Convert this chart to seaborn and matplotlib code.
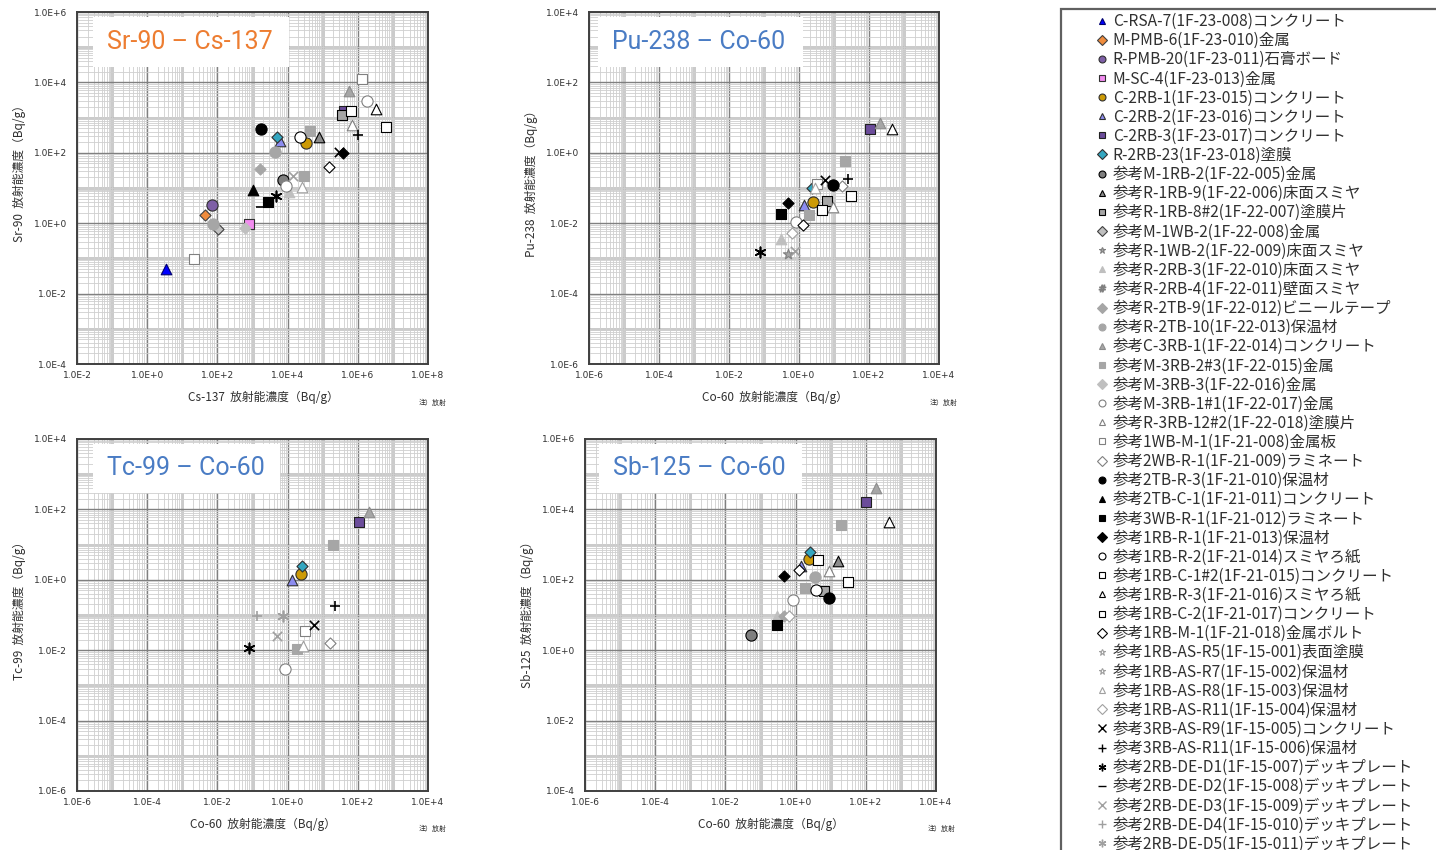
import numpy as np
import pandas as pd
import seaborn as sns
import matplotlib.pyplot as plt
from matplotlib.lines import Line2D
from matplotlib.patches import Rectangle
from matplotlib.ticker import LogLocator, FuncFormatter, NullFormatter

sns.set_style("white")
plt.rcParams['font.family'] = ['DejaVu Sans', 'Noto Sans CJK JP']
JP = ['Noto Sans CJK JP', 'DejaVu Sans']

# legend entries (sample name) and their marker styles
labels = [
    "C-RSA-7(1F-23-008)コンクリート", "M-PMB-6(1F-23-010)金属", "R-PMB-20(1F-23-011)石膏ボード",
    "M-SC-4(1F-23-013)金属", "C-2RB-1(1F-23-015)コンクリート", "C-2RB-2(1F-23-016)コンクリート",
    "C-2RB-3(1F-23-017)コンクリート", "R-2RB-23(1F-23-018)塗膜", "参考M-1RB-2(1F-22-005)金属",
    "参考R-1RB-9(1F-22-006)床面スミヤ", "参考R-1RB-8#2(1F-22-007)塗膜片", "参考M-1WB-2(1F-22-008)金属",
    "参考R-1WB-2(1F-22-009)床面スミヤ", "参考R-2RB-3(1F-22-010)床面スミヤ", "参考R-2RB-4(1F-22-011)壁面スミヤ",
    "参考R-2TB-9(1F-22-012)ビニールテープ", "参考R-2TB-10(1F-22-013)保温材", "参考C-3RB-1(1F-22-014)コンクリート",
    "参考M-3RB-2#3(1F-22-015)金属", "参考M-3RB-3(1F-22-016)金属", "参考M-3RB-1#1(1F-22-017)金属",
    "参考R-3RB-12#2(1F-22-018)塗膜片", "参考1WB-M-1(1F-21-008)金属板", "参考2WB-R-1(1F-21-009)ラミネート",
    "参考2TB-R-3(1F-21-010)保温材", "参考2TB-C-1(1F-21-011)コンクリート", "参考3WB-R-1(1F-21-012)ラミネート",
    "参考1RB-R-1(1F-21-013)保温材", "参考1RB-R-2(1F-21-014)スミヤろ紙", "参考1RB-C-1#2(1F-21-015)コンクリート",
    "参考1RB-R-3(1F-21-016)スミヤろ紙", "参考1RB-C-2(1F-21-017)コンクリート", "参考1RB-M-1(1F-21-018)金属ボルト",
    "参考1RB-AS-R5(1F-15-001)表面塗膜", "参考1RB-AS-R7(1F-15-002)保温材", "参考1RB-AS-R8(1F-15-003)保温材",
    "参考1RB-AS-R11(1F-15-004)保温材", "参考3RB-AS-R9(1F-15-005)コンクリート", "参考3RB-AS-R11(1F-15-006)保温材",
    "参考2RB-DE-D1(1F-15-007)デッキプレート", "参考2RB-DE-D2(1F-15-008)デッキプレート",
    "参考2RB-DE-D3(1F-15-009)デッキプレート", "参考2RB-DE-D4(1F-15-010)デッキプレート",
    "参考2RB-DE-D5(1F-15-011)デッキプレート",
]
ast = (6, 2, 0)
markers = ["^", "D", "o", "s", "o", "^", "s", "D", "o", "^", "s", "D", "*", "^", r"$\#$", "D", "o", "^", "s", "D",
           "o", "^", "s", "D", "o", "^", "s", "D", "o", "s", "^", "s", "D", "*", "*", "^", "D",
           "x", "+", ast, "_", "x", "+", ast]
faces = ["#0000ff", "#f08c3c", "#7e5fa6", "#f28cf0", "#cc9a06", "#8c8cf0", "#6b4c9a", "#33a6c0",
         "#7f7f7f", "#8c8c8c", "#a6a6a6", "#bfbfbf", "#a6a6a6", "#bfbfbf", "#808080", "#a6a6a6",
         "#a6a6a6", "#a6a6a6", "#a6a6a6", "#bfbfbf", "white", "white", "white", "white",
         "black", "black", "black", "black", "white", "white", "white", "white", "white",
         "white", "white", "white", "white", "black", "black", "black", "black", "#a0a0a0", "#a0a0a0", "#a0a0a0"]
edges = ["#00006e", "#404040", "#303030", "#303030", "#303030", "#303030", "#202020", "#303030",
         "black", "black", "black", "#404040", "#808080", "#bfbfbf", "#808080", "#a6a6a6",
         "#a6a6a6", "#8c8c8c", "#a6a6a6", "#bfbfbf", "#808080", "#808080", "#808080", "#808080",
         "black", "black", "black", "black", "black", "black", "black", "black", "black",
         "#a0a0a0", "#a0a0a0", "#a0a0a0", "#a0a0a0", "black", "black", "black", "black",
         "#a0a0a0", "#a0a0a0", "#a0a0a0"]

# Sr-90 vs Cs-137
p1_kind = [0, 22, 2, 1, 16, 11, 19, 3, 15, 25, 40, 26, 39, 24, 7, 5, 16, 8, 20, 13,
           41, 18, 35, 28, 18, 4, 9, 32, 27, 37, 10, 6, 31, 17, 22, 20, 30, 21, 38, 29]
p1_cs137 = [3.4, 22, 71, 43, 73, 107, 620, 780, 1660, 1050, 1740, 2750, 4570, 1740, 5000, 6000, 4400, 7600, 9100, 11000,
            13800, 29000, 25000, 23000, 44000, 34000, 79000, 1.48e5, 3.9e5, 3.0e5, 3.5e5, 4.1e5, 6.2e5, 5.65e5, 1.3e6,
            1.8e6, 3.2e6, 6.9e5, 1.0e6, 6.4e6]
p1_sr90 = [0.049, 0.095, 3.2, 1.66, 0.95, 0.68, 0.74, 0.95, 35, 8.7, 2.85, 3.9, 6.0, 460, 275, 210, 105, 17, 11.5, 7.8,
           22, 22, 11, 290, 410, 195, 285, 39, 96, 105, 1200, 1550, 1550, 5700, 12600, 2950, 1700, 600, 320, 550]

# Pu-238 vs Co-60
p2_kind = [6, 17, 30, 18, 37, 38, 24, 23, 22, 35, 7, 29, 4, 10, 21, 31, 5, 18, 27, 26, 20, 32, 36, 13, 39, 12, 41]
p2_co60 = [110, 200, 455, 20, 5.6, 24.5, 9.1, 17, 3.3, 2.9, 2.4, 31.6, 2.5, 6.5, 9.1, 4.4, 1.4, 1.95, 0.49, 0.30,
           0.83, 1.26, 0.63, 0.30, 0.079, 0.49, 0.78]
p2_pu238 = [4.9, 6.8, 4.6, 0.6, 0.166, 0.18, 0.118, 0.112, 0.134, 0.1, 0.1, 0.06, 0.041, 0.044, 0.028, 0.024, 0.032,
            0.0174, 0.037, 0.0178, 0.0105, 0.0087, 0.0054, 0.0035, 0.0015, 0.0013, 0.0016]

# Tc-99 vs Co-60
p3_kind = [17, 6, 18, 7, 4, 5, 38, 42, 43, 37, 22, 41, 39, 18, 35, 23, 20]
p3_co60 = [204, 105, 20, 2.6, 2.45, 1.37, 23, 0.134, 0.74, 5.7, 3.2, 0.49, 0.079, 1.86, 2.8, 16.6, 0.87]
p3_tc99 = [87, 44, 10, 2.5, 1.48, 0.99, 0.185, 0.096, 0.096, 0.052, 0.035, 0.025, 0.0112, 0.0107, 0.0132, 0.0156, 0.0030]

# Sb-125 vs Co-60
p4_kind = [17, 6, 30, 18, 7, 4, 31, 9, 5, 32, 21, 27, 16, 29, 18, 10, 28, 24, 20, 13, 15, 36, 26, 8]
p4_co60 = [200, 104, 450, 20, 2.6, 2.45, 4.3, 16.6, 1.4, 1.23, 8.7, 0.48, 3.5, 31, 1.9, 6.5, 3.9, 9.0, 0.87, 0.29,
           0.47, 0.63, 0.30, 0.054]
p4_sb125 = [40000, 16600, 4450, 3550, 630, 400, 370, 340, 240, 190, 180, 128, 120, 89, 57, 49, 50, 30, 26, 9.3,
            9.1, 9.1, 5.2, 2.7]

sizes = {"o": 65, "s": 58, "^": 58, "D": 32, "*": 60, "x": 45, "+": 50, ast: 55, "_": 50, r"$\#$": 50}
line_markers = ["x", "+", "_", ast]

W, H = 1436, 850
fig = plt.figure(figsize=(W / 100, H / 100), dpi=100)


def sci(v, pos):
    e = int(round(np.log10(v)))
    return f"1.0E{e:+d}"


def draw_panel(rect, kinds, xs, ys, xlim, ylim, title, tcolor, box, xlabel, ylabel, ly, note_xy):
    l, t, r, b = rect
    ax = fig.add_axes([l / W, 1 - b / H, (r - l) / W, (b - t) / H])
    ax.set_xscale("log")
    ax.set_yscale("log")
    ax.set_xlim(*xlim)
    ax.set_ylim(*ylim)
    for axis in (ax.xaxis, ax.yaxis):
        axis.set_major_locator(LogLocator(base=100, numticks=20))
        axis.set_major_formatter(FuncFormatter(sci))
        axis.set_minor_locator(LogLocator(base=10, subs=np.arange(1, 10), numticks=40))
        axis.set_minor_formatter(NullFormatter())
    ax.grid(which="major", color="#808080", lw=1.0)
    ax.grid(which="minor", color="#cfcfcf", lw=0.6)
    # the odd decades show up as a wider light band
    for e in range(int(np.log10(xlim[0])) + 1, int(np.log10(xlim[1])), 2):
        ax.axvline(10.0 ** e, color="#bababa", lw=1.8, zorder=0.5)
    for e in range(int(np.log10(ylim[0])) + 1, int(np.log10(ylim[1])), 2):
        ax.axhline(10.0 ** e, color="#bababa", lw=1.8, zorder=0.5)
    ax.set_axisbelow(True)
    ax.tick_params(which="both", length=0, labelsize=6.5, colors="#303030")
    ax.tick_params(axis="y", pad=7)
    ax.tick_params(axis="x", pad=5)
    for s in ax.spines.values():
        s.set_color("#404040")
        s.set_linewidth(1.4)

    df = pd.DataFrame({"kind": kinds, "x": xs, "y": ys})
    for k, sub in df.groupby("kind"):
        m = markers[k]
        if m in line_markers:
            sns.scatterplot(data=sub, x="x", y="y", marker=m, color=edges[k], s=sizes[m],
                            linewidth=1.2, ax=ax, legend=False, zorder=3)
        else:
            sns.scatterplot(data=sub, x="x", y="y", marker=m, color=faces[k], edgecolor=edges[k],
                            s=sizes[m], linewidth=0.8, ax=ax, legend=False, zorder=3)

    bx0, bx1, by0, by1 = box
    ax.add_patch(Rectangle((bx0, by0), bx1 - bx0, by1 - by0, transform=ax.transAxes,
                           facecolor="white", edgecolor="none", zorder=4))
    ax.text(bx0 + 0.04, (by0 + by1) / 2, title, transform=ax.transAxes, color=tcolor,
            fontsize=18, family="Roboto", va="center", ha="left", zorder=5)
    ax.set_xlabel(xlabel, family=JP, fontsize=8.5, color="#303030")
    ax.set_ylabel(ylabel, family=JP, fontsize=8.5, color="#303030")
    ax.xaxis.set_label_coords(0.53, -0.075)
    ax.yaxis.set_label_coords(-0.145, ly)
    fig.text(note_xy[0] / W, 1 - note_xy[1] / H, "注）放射", family=JP, fontsize=5, color="#303030",
             va="center")
    return ax


orange = "#ed7d31"
blue = "#4a7cc4"
draw_panel((77, 12, 428, 364), p1_kind, p1_cs137, p1_sr90, (1e-2, 1e8), (1e-4, 1e6),
           "Sr-90 – Cs-137", orange, (0.046, 0.604, 0.844, 0.986),
           "Cs-137  放射能濃度（Bq/g）", "Sr-90  放射能濃度（Bq/g）", 0.55, (419, 403))
draw_panel((589, 12, 939, 364), p2_kind, p2_co60, p2_pu238, (1e-6, 1e4), (1e-6, 1e4),
           "Pu-238 – Co-60", blue, (0.026, 0.611, 0.844, 0.986),
           "Co-60  放射能濃度（Bq/g）", "Pu-238  放射能濃度（Bq/g）", 0.52, (930, 403))
draw_panel((77, 439, 428, 791), p3_kind, p3_co60, p3_tc99, (1e-6, 1e4), (1e-6, 1e4),
           "Tc-99 – Co-60", blue, (0.046, 0.578, 0.847, 0.986),
           "Co-60  放射能濃度（Bq/g）", "Tc-99  放射能濃度（Bq/g）", 0.52, (419, 829))
draw_panel((585, 439, 936, 791), p4_kind, p4_co60, p4_sb125, (1e-6, 1e4), (1e-4, 1e6),
           "Sb-125 – Co-60", blue, (0.040, 0.618, 0.847, 0.986),
           "Co-60  放射能濃度（Bq/g）", "Sb-125  放射能濃度（Bq/g）", 0.51, (928, 829))

# legend panel on the right (cut off by the figure edge like the source)
fig.add_artist(Rectangle((1061 / W, -0.1), 0.5, 1.1 - 9 / H, transform=fig.transFigure,
                         fill=False, edgecolor="#606060", lw=1.6))
handles = []
for k in range(len(labels)):
    m = markers[k]
    handles.append(Line2D([0], [0], marker=m, linestyle="None", markerfacecolor=faces[k],
                          markeredgecolor=edges[k], markersize=5.5 if m in line_markers else 5,
                          markeredgewidth=1.0 if m in line_markers else 0.8))
fig.legend(handles, labels, loc="upper left", bbox_to_anchor=(1094 / W, 1 - 13 / H), frameon=False,
           prop={"family": JP, "size": 11.2}, labelcolor="#303030", handlelength=1.0,
           handletextpad=0.2, labelspacing=0.137, borderaxespad=0, borderpad=0)

fig.savefig("out.png", dpi=100)
